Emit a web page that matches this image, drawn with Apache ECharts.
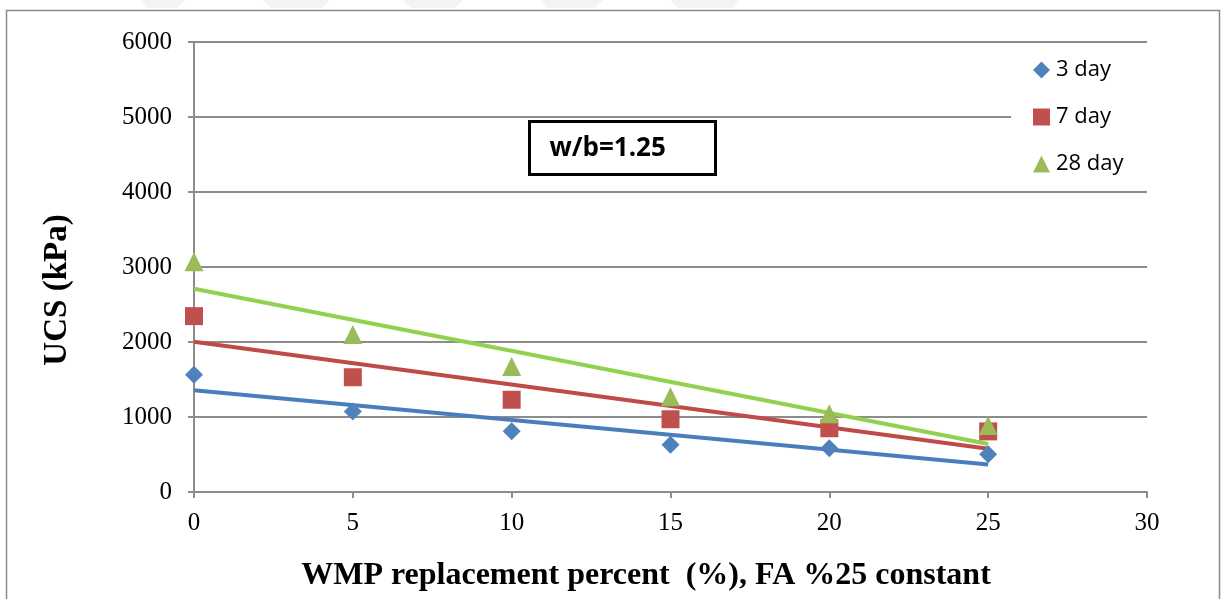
<!DOCTYPE html>
<html>
<head>
<meta charset="utf-8">
<script src="https://cdn.jsdelivr.net/npm/echarts@6/dist/echarts.min.js"></script>
<style>
  html, body { margin: 0; padding: 0; background: #fff; }
  #chart { width: 1224px; height: 599px; }
</style>
</head>
<body>
<div id="chart"></div>
<script>
// WMP replacement levels (%)
const wmpPercent = [0, 5, 10, 15, 20, 25];
// UCS (kPa) by curing age
const ucs3day  = [1565, 1075, 810, 630, 585, 505];
const ucs7day  = [2345, 1530, 1230, 970, 850, 808];
const ucs28day = [3070, 2100, 1675, 1270, 1045, 888];
const seriesNames = ['3 day', '7 day', '28 day'];
const xTicks = [0, 5, 10, 15, 20, 25, 30];
const yTicks = [0, 1000, 2000, 3000, 4000, 5000, 6000];
const xTitle = 'WMP replacement percent  (%), FA %25 constant';
const yTitle = 'UCS (kPa)';
const noteText = 'w/b=1.25';

const markerColors = ['#4F81BD', '#C0504D', '#9BBB59'];
const trendColors  = ['#4A7EBB', '#BE4B48', '#92D050'];
const symbols = ['diamond', 'rect', 'triangle'];
const symbolSizes = [18, 18, 19];

// least-squares linear trend over the measured range
function linearTrend(xs, ys) {
  const n = xs.length;
  const mx = xs.reduce((a, b) => a + b, 0) / n;
  const my = ys.reduce((a, b) => a + b, 0) / n;
  let sxy = 0, sxx = 0;
  for (let i = 0; i < n; i++) {
    sxy += (xs[i] - mx) * (ys[i] - my);
    sxx += (xs[i] - mx) * (xs[i] - mx);
  }
  const slope = sxy / sxx;
  const icpt = my - slope * mx;
  const x0 = xs[0], x1 = xs[n - 1];
  return [[x0, icpt + slope * x0], [x1, icpt + slope * x1]];
}

const allSeries = [ucs3day, ucs7day, ucs28day];
const series = [];
allSeries.forEach((vals, i) => {
  series.push({
    name: seriesNames[i] + ' trend',
    type: 'line',
    data: linearTrend(wmpPercent, vals),
    showSymbol: false,
    symbol: 'none',
    lineStyle: { color: trendColors[i], width: 4 },
    z: 2,
    silent: true
  });
});
allSeries.forEach((vals, i) => {
  series.push({
    name: seriesNames[i],
    type: 'scatter',
    data: wmpPercent.map((x, k) => [x, vals[k]]),
    symbol: symbols[i],
    symbolSize: symbolSizes[i],
    itemStyle: { color: markerColors[i], opacity: 1 },
    z: 3
  });
});

// faint chevron marks along the top edge of the page
const topMarks = [[140, 185], [263, 330], [403, 463], [540, 603], [670, 740]];
const markGraphics = topMarks.map(([a, b]) => ({
  type: 'polygon',
  shape: { points: [[a, 0], [b, 0], [b - 8, 8], [a + 8, 8]] },
  style: { fill: '#F3F3F3' },
  silent: true,
  z: 0
}));

const chart = echarts.init(document.getElementById('chart'), null, { renderer: 'canvas' });
const serif = '"Liberation Serif", "Times New Roman", serif';
const sans = '"Open Sans", "Liberation Sans", sans-serif';
const axisGrey = '#8C8C8C';

chart.setOption({
  animation: false,
  backgroundColor: '#fff',
  grid: { left: 194, right: 77, top: 42, bottom: 107, containLabel: false },
  xAxis: {
    type: 'value',
    min: xTicks[0],
    max: xTicks[xTicks.length - 1],
    interval: 5,
    axisLine: { lineStyle: { color: axisGrey, width: 2 } },
    axisTick: { show: true, inside: false, length: 6, lineStyle: { color: axisGrey, width: 2 } },
    axisLabel: { fontFamily: serif, fontSize: 25, color: '#000', margin: 19 },
    splitLine: { show: false }
  },
  yAxis: {
    type: 'value',
    min: yTicks[0],
    max: yTicks[yTicks.length - 1],
    interval: 1000,
    axisLine: { show: true, lineStyle: { color: axisGrey, width: 2 } },
    axisTick: { show: true, inside: false, length: 6, lineStyle: { color: axisGrey, width: 2 } },
    axisLabel: { fontFamily: serif, fontSize: 25, color: '#000', margin: 22, formatter: v => String(v) },
    splitLine: { show: true, lineStyle: { color: axisGrey, width: 2 } }
  },
  legend: {
    data: seriesNames.map((n, i) => ({ name: n, icon: symbols[i] })),
    orient: 'vertical',
    left: 1011,
    top: 46,
    padding: [13, 28, 14, 22],
    backgroundColor: '#fff',
    itemWidth: 17,
    itemHeight: 17,
    itemGap: 25,
    textStyle: { fontFamily: sans, fontSize: 22, color: '#000', lineHeight: 22, padding: [0, 0, 0, 1] },
    z: 10
  },
  graphic: markGraphics.concat([
    {
      type: 'rect',
      left: 4, top: 8,
      shape: { width: 1213, height: 600 },
      style: { fill: 'none', stroke: '#8A8A8A', lineWidth: 1.5 },
      silent: true, z: 0
    },
    {
      type: 'text',
      x: 57, y: 290,
      rotation: Math.PI / 2,
      style: {
        text: yTitle,
        fontFamily: serif, fontWeight: 'bold', fontSize: 33, fill: '#000',
        align: 'center', verticalAlign: 'middle'
      },
      z: 5
    },
    {
      type: 'text',
      x: 646, y: 576,
      style: {
        text: xTitle,
        fontFamily: serif, fontWeight: 'bold', fontSize: 32, fill: '#000',
        align: 'center', verticalAlign: 'middle'
      },
      z: 5
    },
    {
      type: 'group',
      left: 528, top: 120,
      z: 20,
      children: [
        {
          type: 'rect',
          shape: { x: 0, y: 0, width: 186, height: 53 },
          style: { fill: '#fff', stroke: '#000', lineWidth: 3 }
        },
        {
          type: 'text',
          x: 20, y: 27,
          style: {
            text: noteText,
            fontFamily: sans,
            fontWeight: 'bold',
            fontSize: 26,
            fill: '#000',
            verticalAlign: 'middle',
            align: 'left'
          }
        }
      ]
    }
  ]),
  series: series
});
</script>
</body>
</html>
